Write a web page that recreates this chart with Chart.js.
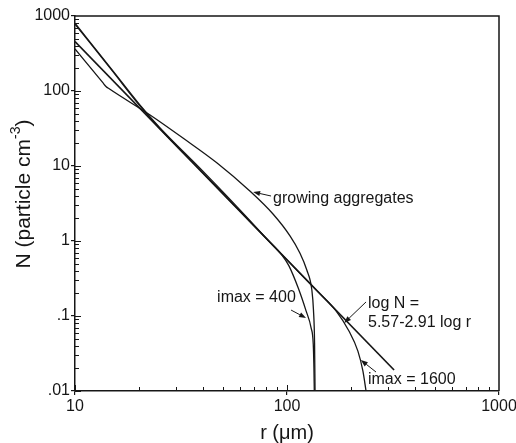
<!DOCTYPE html>
<html>
<head>
<meta charset="utf-8">
<script src="https://cdn.jsdelivr.net/npm/chart.js@4.4.1/dist/chart.umd.min.js"></script>
<style>
  html, body { margin: 0; padding: 0; background: #fff; }
  #wrap { width: 516px; height: 443px; }
</style>
</head>
<body>
<div id="wrap"><canvas id="chart" width="516" height="443"></canvas></div>
<script>
// radius r (um) against number concentration N (particle cm^-3)
const gaR = [10, 13.5, 14, 14.5, 22.6, 32.3, 46.8, 66.8, 85.9, 103.3, 115, 124, 131, 133.3, 134.9, 135.6];
const gaN = [363, 130, 115, 107, 47.9, 23.6, 10.96, 4.64, 2.29, 1.17, 0.692, 0.41, 0.222, 0.12, 0.0436, 0.01];

const i400R = [10, 15, 20, 25, 40, 60, 80, 95, 102, 113, 123, 130, 133, 134, 134.5];
const i400N = [800, 190, 68, 33, 8.6, 2.6, 1.08, 0.64, 0.47, 0.236, 0.117, 0.069, 0.042, 0.02, 0.01];

const i1600R = [10, 15, 20, 25, 40, 60, 100, 140, 170, 196, 216, 228, 236];
const i1600N = [780, 185, 66, 32, 8.2, 2.5, 0.56, 0.21, 0.118, 0.063, 0.034, 0.0185, 0.01];

// regression line: log N = 5.57 - 2.91 log r
const fitA = 5.57;
const fitB = -2.91;
const fitR = [10, 320];

const xTicks = [10, 100, 1000];
const yTicks = [0.01, 0.1, 1, 10, 100, 1000];
const yTickLabels = ['.01', '.1', '1', '10', '100', '1000'];

// annotation text (data coords of left/middle) and arrows (tail -> head)
const noteText = ['growing aggregates', 'imax = 400', 'log N =', '5.57-2.91 log r', 'imax = 1600'];
const noteR = [85.9, 46.8, 241, 241, 241];
const noteN = [3.63, 0.174, 0.1445, 0.0807, 0.014];
const arrowFrom = [[84.1, 3.98], [104.5, 0.12], [236, 0.154], [263, 0.0179]];
const arrowTo = [[69.2, 4.5], [123, 0.094], [186, 0.0807], [223, 0.0259]];

const INK = '#161616';
const FONT = '"Liberation Sans", Arial, Helvetica, sans-serif';

function pts(rs, ns) {
  return rs.map((r, i) => ({ x: r, y: ns[i] }));
}

function line(data, width, smooth) {
  return {
    data: data,
    showLine: true,
    pointRadius: 0,
    borderColor: INK,
    borderWidth: width,
    cubicInterpolationMode: smooth ? 'monotone' : 'default',
    tension: 0,
    fill: false,
  };
}

const fitData = fitR.map(r => ({ x: r, y: Math.pow(10, fitA + fitB * Math.log10(r)) }));

// inner ticks, top/right frame, annotations, axis titles
const decor = {
  id: 'decor',
  afterDraw(chart) {
    const ctx = chart.ctx;
    const xs = chart.scales.x;
    const ys = chart.scales.y;
    const a = chart.chartArea;
    ctx.save();
    ctx.strokeStyle = INK;
    ctx.fillStyle = INK;

    // frame top and right
    ctx.lineWidth = 1.5;
    ctx.beginPath();
    ctx.moveTo(a.left, a.top);
    ctx.lineTo(a.right, a.top);
    ctx.lineTo(a.right, a.bottom);
    ctx.stroke();

    // minor/major ticks pointing inward
    ctx.lineWidth = 1;
    ctx.beginPath();
    for (let d = 0.01; d < 1000; d *= 10) {
      for (let k = 1; k <= 9; k++) {
        const py = Math.round(ys.getPixelForValue(k * d)) + 0.5;
        const len = k === 1 ? 6 : 4;
        ctx.moveTo(a.left, py);
        ctx.lineTo(a.left + len, py);
      }
    }
    for (let d = 10; d < 1000; d *= 10) {
      for (let k = 1; k <= 9; k++) {
        const px = Math.round(xs.getPixelForValue(k * d)) + 0.5;
        const len = k === 1 ? 6 : 4;
        ctx.moveTo(px, a.bottom);
        ctx.lineTo(px, a.bottom - len);
      }
    }
    ctx.stroke();

    // annotation labels
    ctx.font = '16px ' + FONT;
    ctx.textAlign = 'left';
    ctx.textBaseline = 'middle';
    noteText.forEach((t, i) => {
      ctx.fillText(t, xs.getPixelForValue(noteR[i]), ys.getPixelForValue(noteN[i]));
    });

    // arrows
    ctx.lineWidth = 1;
    arrowFrom.forEach((f, i) => {
      const x0 = xs.getPixelForValue(f[0]), y0 = ys.getPixelForValue(f[1]);
      const x1 = xs.getPixelForValue(arrowTo[i][0]), y1 = ys.getPixelForValue(arrowTo[i][1]);
      const ang = Math.atan2(y1 - y0, x1 - x0);
      const hl = 7, hw = 2.6;
      const bx = x1 - hl * Math.cos(ang), by = y1 - hl * Math.sin(ang);
      ctx.beginPath();
      ctx.moveTo(x0, y0);
      ctx.lineTo(bx, by);
      ctx.stroke();
      ctx.beginPath();
      ctx.moveTo(x1, y1);
      ctx.lineTo(bx + hw * Math.sin(ang), by - hw * Math.cos(ang));
      ctx.lineTo(bx - hw * Math.sin(ang), by + hw * Math.cos(ang));
      ctx.closePath();
      ctx.fill();
    });

    // x axis title
    ctx.font = '20px ' + FONT;
    ctx.textAlign = 'center';
    ctx.textBaseline = 'middle';
    ctx.fillText('r (\u03bcm)', (xs.left + xs.right) / 2, 433);

    // y axis title with superscript
    ctx.translate(24, 194);
    ctx.rotate(-Math.PI / 2);
    const main = 'N (particle cm';
    const sup = '-3';
    const tail = ')';
    ctx.font = '21px ' + FONT;
    const w1 = ctx.measureText(main).width;
    const w3 = ctx.measureText(tail).width;
    ctx.font = '14px ' + FONT;
    const w2 = ctx.measureText(sup).width;
    let x = -(w1 + w2 + w3) / 2;
    ctx.textAlign = 'left';
    ctx.font = '21px ' + FONT;
    ctx.fillText(main, x, 0);
    x += w1;
    ctx.font = '14px ' + FONT;
    ctx.fillText(sup, x, -8);
    x += w2;
    ctx.font = '21px ' + FONT;
    ctx.fillText(tail, x, 0);
    ctx.restore();
  }
};

new Chart(document.getElementById('chart'), {
  type: 'scatter',
  data: {
    datasets: [
      line(pts(gaR, gaN), 1.3, true),
      line(pts(i400R, i400N), 1.3, true),
      line(pts(i1600R, i1600N), 1.3, true),
      line(fitData, 1.7, false),
    ],
  },
  options: {
    responsive: false,
    devicePixelRatio: 1,
    animation: false,
    layout: { padding: { top: 16, right: 17, left: 0, bottom: 0 } },
    plugins: {
      legend: { display: false },
      tooltip: { enabled: false },
    },
    scales: {
      x: {
        type: 'logarithmic',
        min: 10,
        max: 1000,
        afterBuildTicks: s => { s.ticks = xTicks.map(v => ({ value: v })); },
        afterFit: s => { s.height = 52; s.paddingLeft = 0; s.paddingRight = 0; },
        ticks: {
          autoSkip: false,
          maxRotation: 0,
          padding: 2,
          color: INK,
          font: { family: FONT, size: 16 },
          callback: v => String(v),
        },
        grid: { drawOnChartArea: false, drawTicks: true, tickLength: 4, color: INK, lineWidth: 1.2 },
        border: { display: true, color: INK, width: 1.5 },
      },
      y: {
        type: 'logarithmic',
        min: 0.01,
        max: 1000,
        afterBuildTicks: s => { s.ticks = yTicks.map(v => ({ value: v })); },
        afterFit: s => { s.width = 75; s.paddingTop = 0; s.paddingBottom = 0; },
        ticks: {
          autoSkip: false,
          padding: 1,
          color: INK,
          font: { family: FONT, size: 16 },
          callback: (v, i) => yTickLabels[i],
        },
        grid: { drawOnChartArea: false, drawTicks: true, tickLength: 4, color: INK, lineWidth: 1.2 },
        border: { display: true, color: INK, width: 1.5 },
      },
    },
  },
  plugins: [decor],
});
</script>
</body>
</html>
